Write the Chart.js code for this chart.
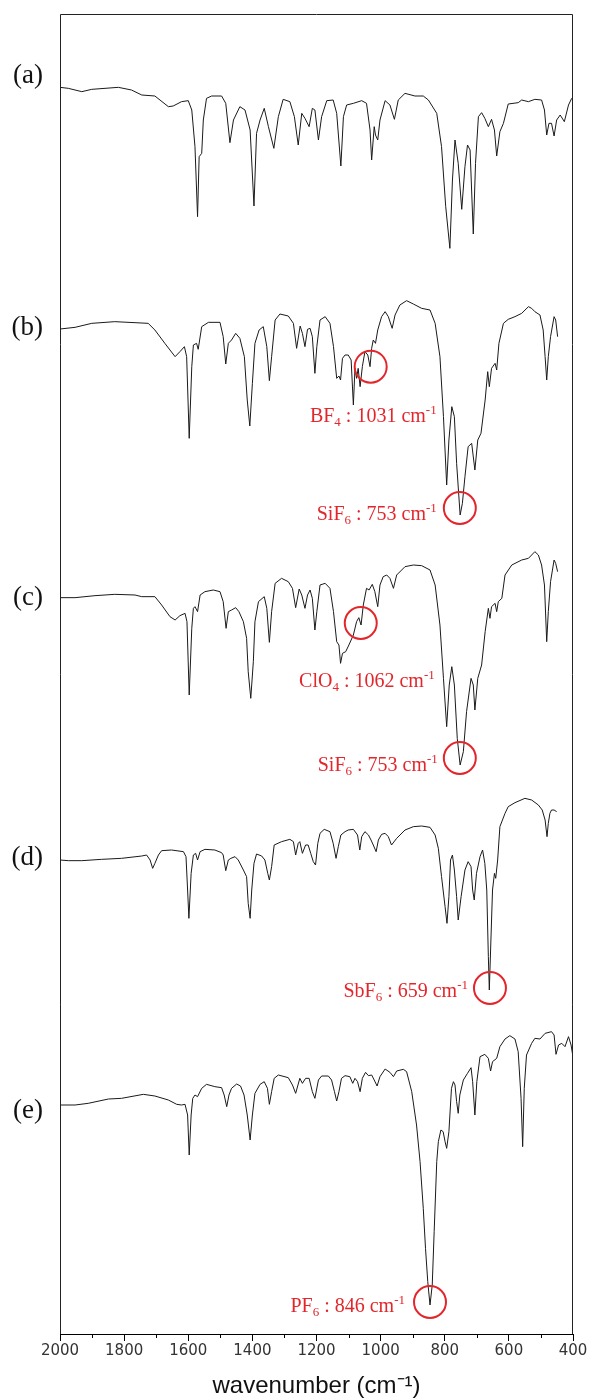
<!DOCTYPE html>
<html><head><meta charset="utf-8">
<script src="https://cdn.jsdelivr.net/npm/chart.js@4.4.1/dist/chart.umd.min.js"></script>
<style>html,body{margin:0;padding:0;background:#fff;}#wrap{position:relative;width:589px;height:1398px;}</style>
</head><body><div id="wrap"><canvas id="c" width="589" height="1398"></canvas></div>
<script>
// ---- data: wavenumber (cm-1) and relative transmittance (a.u.) for each spectrum ----
const TRACE_LABELS = ['(a)', '(b)', '(c)', '(d)', '(e)'];
const WN_A = [2000,1974,1932,1901,1818,1777,1745,1704,1662,1647,1621,1600,1589,1579,1571,1566,1558,1553,1543,1527,1496,1483,1470,1459,1439,1423,1407,1395,1387,1376,1363,1350,1333,1319,1304,1283,1269,1257,1246,1236,1223,1213,1205,1194,1184,1168,1148,1137,1124,1116,1106,1085,1059,1044,1033,1028,1020,1016,1009,1002,986,971,957,945,924,893,867,851,825,810,797,784,776,768,758,747,737,729,721,711,704,695,685,675,664,654,645,638,628,617,602,571,560,539,519,498,489,482,475,467,459,451,440,427,414,404,400];
const T_A = [488,485,475,482,488,480,465,462,430,432,445,448,420,310,100,280,290,390,455,462,462,440,322,390,430,420,360,132,350,390,425,370,305,400,452,445,400,315,410,395,370,425,420,330,400,448,450,410,252,400,435,440,448,440,360,270,370,345,330,390,448,435,392,450,470,462,462,450,410,310,130,5,210,330,260,122,250,315,300,48,260,400,412,395,370,392,360,282,355,380,438,442,450,445,452,450,420,345,380,380,342,390,405,385,435,455,458];
const WN_B = [2000,1953,1901,1829,1725,1704,1673,1641,1626,1612,1605,1597,1589,1584,1574,1569,1558,1537,1501,1491,1483,1475,1465,1452,1439,1425,1416,1408,1400,1392,1379,1366,1355,1347,1340,1329,1314,1288,1272,1262,1251,1244,1236,1228,1220,1213,1205,1199,1189,1173,1158,1147,1137,1130,1125,1119,1111,1101,1092,1085,1080,1075,1070,1064,1057,1049,1040,1033,1028,1023,1016,1009,997,986,976,964,955,940,919,898,872,846,830,815,804,794,787,778,770,763,752,745,737,727,716,706,697,687,674,666,661,654,643,638,631,617,602,581,560,539,529,519,503,493,487,482,477,470,459,454,448];
const T_B = [603,608,620,625,620,600,560,520,535,550,520,275,490,555,560,542,610,623,623,580,498,560,570,590,575,520,390,312,440,560,600,610,550,448,520,630,648,642,620,545,612,590,550,602,605,580,470,550,630,640,620,550,455,462,450,515,525,525,510,375,485,455,485,430,490,535,525,490,545,570,560,600,640,655,640,605,645,675,688,678,665,660,620,520,340,135,270,370,340,200,45,80,160,250,260,180,270,290,390,475,430,485,500,480,560,620,632,640,650,670,665,655,645,600,520,450,520,580,640,630,580];
const WN_C = [2000,1953,1891,1829,1766,1745,1704,1683,1657,1641,1626,1610,1604,1597,1589,1584,1579,1571,1563,1548,1522,1501,1491,1482,1475,1465,1452,1442,1428,1418,1413,1405,1397,1392,1381,1363,1355,1347,1340,1329,1309,1288,1275,1265,1254,1246,1236,1228,1220,1213,1205,1199,1189,1173,1158,1147,1137,1130,1125,1119,1109,1099,1085,1075,1068,1061,1054,1044,1036,1026,1018,1009,1002,992,981,971,960,950,924,898,872,846,830,815,804,794,786,778,770,761,752,742,732,718,711,706,697,685,674,664,659,654,643,638,633,622,612,591,560,539,519,508,498,489,482,477,470,459,454,448];
const T_C = [547,547,553,557,555,550,550,525,490,480,493,500,475,255,455,515,520,505,555,565,570,565,535,455,505,510,517,505,475,425,325,245,355,475,535,550,515,413,505,590,605,595,575,517,573,555,515,555,570,545,450,505,585,590,575,505,415,405,350,380,385,405,435,475,487,465,525,575,570,587,565,520,585,610,615,605,575,615,640,645,643,630,585,465,305,160,285,340,285,125,45,85,205,305,285,210,305,345,445,515,485,520,530,505,535,545,615,645,660,665,685,675,645,585,415,505,595,660,650,625];
const WN_D = [2000,1974,1932,1870,1808,1745,1730,1719,1711,1704,1693,1683,1652,1615,1607,1602,1598,1591,1584,1577,1571,1563,1548,1517,1496,1491,1483,1475,1467,1454,1444,1428,1418,1413,1407,1402,1395,1387,1371,1361,1352,1347,1340,1332,1309,1283,1272,1265,1257,1252,1244,1234,1226,1218,1210,1203,1196,1189,1176,1158,1148,1139,1132,1124,1111,1101,1085,1072,1065,1059,1049,1038,1030,1023,1014,1007,997,986,976,966,950,924,898,872,846,830,820,810,799,793,787,782,776,770,763,758,749,737,727,718,713,708,701,690,682,675,669,664,661,656,651,645,641,635,628,612,602,581,550,529,508,496,487,481,477,472,467,459,451];
const T_D = [465,463,463,467,470,477,480,465,440,455,480,493,495,490,475,375,290,425,480,485,465,490,497,495,487,480,433,465,470,475,465,435,415,335,290,375,455,483,477,465,425,405,445,510,520,527,520,480,515,520,485,510,510,485,460,450,515,545,557,550,515,470,505,540,550,555,557,540,495,535,550,540,525,510,490,525,542,545,535,510,530,555,565,567,563,540,500,415,325,275,355,465,480,435,355,285,355,435,460,445,375,345,425,475,495,455,375,175,75,225,375,425,410,465,565,605,625,637,650,645,630,615,585,535,575,605,615,615,610];
const WN_E = [2000,1953,1912,1849,1808,1740,1704,1662,1636,1621,1610,1602,1597,1591,1586,1579,1571,1558,1543,1517,1496,1488,1480,1473,1465,1449,1437,1426,1416,1407,1400,1392,1376,1363,1353,1347,1340,1332,1319,1288,1275,1265,1252,1244,1234,1223,1213,1205,1194,1184,1163,1153,1144,1137,1130,1122,1111,1096,1087,1080,1072,1064,1057,1047,1038,1028,1020,1011,1002,986,971,960,950,929,919,903,888,877,867,860,853,846,839,833,825,820,812,805,799,794,787,779,773,768,763,758,753,742,729,718,713,706,700,690,675,664,657,651,638,628,612,597,581,571,562,557,552,545,529,519,503,487,467,459,453,445,435,425,414,406,401];
const T_E = [630,630,635,648,650,662,657,645,632,630,632,600,480,600,650,660,655,680,692,685,682,660,625,660,680,693,687,660,600,525,600,665,692,700,680,632,670,710,720,712,690,665,710,695,710,710,670,650,705,717,717,705,670,642,670,710,718,715,695,710,700,670,710,728,718,720,705,687,715,738,728,715,732,737,730,670,570,460,320,200,100,30,90,250,460,520,555,550,520,500,550,680,700,690,640,605,660,705,725,742,700,600,700,775,782,770,732,760,770,805,828,838,828,790,650,505,680,780,815,830,828,845,850,840,782,810,815,805,835,810,780];
const TRACE_OFFSETS = [3252, 2412, 1662, 957, 57];   // vertical stacking offsets (a.u.)
const X_TICKS = [2000, 1800, 1600, 1400, 1200, 1000, 800, 600, 400];
const X_MINOR = [1900, 1700, 1500, 1300, 1100, 900, 700, 500];
const X_TITLE = 'wavenumber (cm\u207B\u00B9)';
// annotations: anion band positions
const ANNOT_ION = ['BF', 'SiF', 'ClO', 'SiF', 'SbF', 'PF'];
const ANNOT_SUB = ['4', '6', '4', '6', '6', '6'];
const ANNOT_WN = [1031, 753, 1062, 753, 659, 846];
const ANNOT_TRACE = [1, 1, 2, 2, 3, 4];

// ---- styles ----
const CIRCLE_DY = [0, -7, -2, -7, -2, -3];
const TEXT_DX = [66, -23, 74, -22, -22, -25];
const TEXT_DY = [55, 12, 64, 13, 9, 10];
const LABEL_DY = [-11, -1, 0, -2, 6];
const RED = '#e3262b';

const WN = [WN_A, WN_B, WN_C, WN_D, WN_E];
const TT = [T_A, T_B, T_C, T_D, T_E];

const datasets = WN.map((w, k) => ({
  label: TRACE_LABELS[k],
  data: w.slice(0, Math.min(w.length, TT[k].length)).map((v, i) => ({x: v, y: TT[k][i] + TRACE_OFFSETS[k]})),
  borderColor: '#1a1a1a', borderWidth: 1, pointRadius: 0, tension: 0, fill: false
}));

function drawAnnotText(ctx, right, base, ion, sub, val) {
  const big = '20px "Liberation Serif", "Times New Roman", serif';
  const small = '13px "Liberation Serif", "Times New Roman", serif';
  const parts = [[ion, big, 0], [sub, small, 4], [' : ' + val + ' cm', big, 0], ['-1', small, -8]];
  let total = 0;
  parts.forEach(p => { ctx.font = p[1]; total += ctx.measureText(p[0]).width; });
  let xx = right - total;
  ctx.textAlign = 'left'; ctx.textBaseline = 'alphabetic'; ctx.fillStyle = RED;
  parts.forEach(p => { ctx.font = p[1]; ctx.fillText(p[0], xx, base + p[2]); xx += ctx.measureText(p[0]).width; });
}

const decor = {
  id: 'decor',
  afterDraw(chart) {
    const {ctx, chartArea: a, scales: {x, y}} = chart;
    ctx.save();
    ctx.strokeStyle = '#222'; ctx.lineWidth = 1;
    ctx.beginPath();
    const L = Math.round(a.left) + 0.5, R = Math.round(a.right) - 0.5, T = Math.round(a.top) + 0.5, B = Math.round(a.bottom);
    ctx.moveTo(L, B); ctx.lineTo(L, T); ctx.lineTo(R, T); ctx.lineTo(R, B);
    ctx.stroke();
    ctx.strokeStyle = '#000';
    ctx.beginPath();
    X_MINOR.forEach(v => {
      const px = Math.round(x.getPixelForValue(v)) + 0.5;
      ctx.moveTo(px, a.bottom); ctx.lineTo(px, a.bottom + 4);
    });
    ctx.stroke();
    // trace labels
    ctx.fillStyle = '#111';
    ctx.font = '27px "Liberation Serif", "Times New Roman", serif';
    ctx.textAlign = 'right'; ctx.textBaseline = 'middle';
    chart.data.datasets.forEach((ds, k) => {
      const py = y.getPixelForValue(ds.data[0].y) + LABEL_DY[k];
      ctx.fillText(TRACE_LABELS[k], a.left - 17, py);
    });
    // annotations
    ANNOT_WN.forEach((w, i) => {
      const ds = chart.data.datasets[ANNOT_TRACE[i]].data;
      let minV = Infinity;
      ds.forEach(p => { if (Math.abs(p.x - w) <= 6 && p.y < minV) minV = p.y; });
      const cx = x.getPixelForValue(w);
      const cy = y.getPixelForValue(minV) + CIRCLE_DY[i];
      ctx.strokeStyle = RED; ctx.lineWidth = 2;
      ctx.beginPath(); ctx.arc(cx, cy, 16, 0, Math.PI * 2); ctx.stroke();
      drawAnnotText(ctx, cx + TEXT_DX[i], cy + TEXT_DY[i], ANNOT_ION[i], ANNOT_SUB[i], String(w));
    });
    ctx.restore();
  }
};

new Chart(document.getElementById('c'), {
  type: 'line',
  data: {datasets},
  options: {
    responsive: false, animation: false, devicePixelRatio: 1, events: [],
    layout: {padding: {left: 60, right: 16, top: 14, bottom: 0}},
    plugins: {legend: {display: false}, tooltip: {enabled: false}},
    scales: {
      x: {
        type: 'linear', min: 400, max: 2000, reverse: true,
        afterBuildTicks: s => { s.ticks = X_TICKS.map(v => ({value: v})); },
        afterFit: s => { s.height = 64; },
        ticks: {callback: v => String(v), autoSkip: false, maxRotation: 0, padding: 1,
          font: {family: '"DejaVu Sans", sans-serif', size: 15}, color: '#333'},
        grid: {drawOnChartArea: false, drawTicks: true, tickLength: 7, color: '#000', lineWidth: 1},
        border: {display: true, color: '#000', width: 1},
        title: {display: true, text: X_TITLE, color: '#111', padding: {top: 0, bottom: 0},
          font: {family: '"Liberation Sans", Arial, sans-serif', size: 24, lineHeight: 1}}
      },
      y: {display: false, min: 0, max: 3960}
    }
  },
  plugins: [decor]
});
</script></body></html>
